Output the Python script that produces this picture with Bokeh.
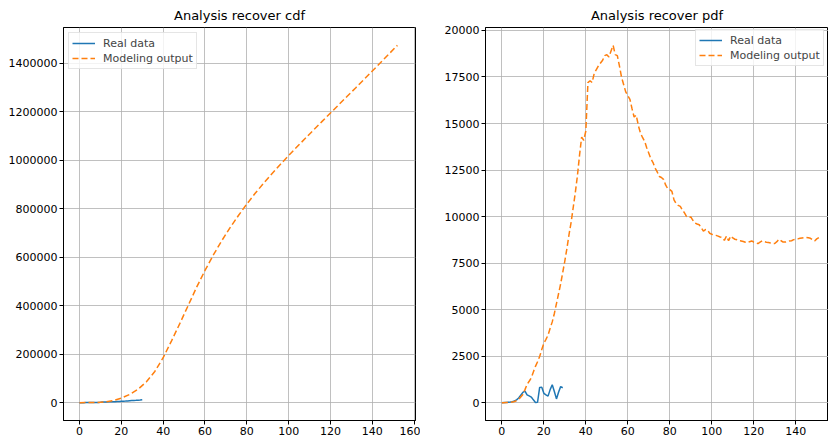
from bokeh.plotting import figure
from bokeh.layouts import row
from bokeh.models import FixedTicker, NumeralTickFormatter, Legend, LegendItem
from bokeh.embed import file_html
from bokeh.resources import INLINE

# ---------------- data ----------------
# Real data (days 0..)
real_cdf_x = list(range(0, 31))
real_cdf_y = [0, 5, 15, 35, 65, 115, 205, 355, 605, 1005, 1555, 2175, 2595, 2955, 3255,
              3405, 3415, 3435, 4255, 5085, 5585, 6005, 6355, 7055, 8015, 8615, 8815,
              9375, 10235, 11035, 12200]

real_pdf_x = list(range(0, 30))
real_pdf_y = [0, 5, 10, 20, 30, 50, 90, 150, 250, 400, 550, 620, 420, 360, 300,
              150, 10, 20, 820, 830, 500, 420, 350, 700, 960, 600, 200, 560, 860, 800]

# Modeling output, cumulative (every 4 days)
model_cdf_x = list(range(0, 153, 4))
model_cdf_y = [0, 100, 400, 2600, 8400, 18700, 33700, 55100, 85900, 128400, 185200,
               254800, 326900, 401400, 476200, 545200, 609000, 667800, 721800, 772000,
               819200, 863400, 904800, 944400, 982400, 1019100, 1055100, 1090400,
               1125500, 1160100, 1194700, 1229100, 1263700, 1298100, 1332900, 1367800,
               1403100, 1438500, 1473700]

# Modeling output, daily
model_pdf_x = list(range(0, 152))
model_pdf_y = [0, 0, 5, 10, 20, 35, 60, 110, 180, 300, 440, 700, 975, 1150, 1330, 1650,
               1950, 2200, 2480, 2850, 3190, 3400, 3630, 4000, 4340, 4790, 5320, 5850,
               6380, 7000, 7620, 8300, 9040, 9700, 10500, 11300, 12200, 13300, 14270,
               14100, 14600, 17200, 17300, 17200, 17700, 17900, 18100, 18250, 18400,
               18650, 18700, 18580, 18900, 19200, 18700, 18650, 18100, 17500, 17100,
               16700, 16500, 16300, 15800, 15350, 15450, 14900, 14500, 14250, 14050,
               13700, 13400, 13100, 12900, 12600, 12400, 12150, 12100, 12000, 11700,
               11500, 11450, 11350, 10900, 10700, 10600, 10550, 10350, 10200, 10000,
               9950, 9980, 9800, 9650, 9600, 9560, 9400, 9220, 9300, 9280, 9100, 9050,
               9020, 8990, 8950, 8900, 8870, 8720, 8950, 8700, 8950, 8850, 8780, 8750,
               8700, 8690, 8660, 8620, 8600, 8650, 8690, 8620, 8580, 8550, 8620, 8690,
               8650, 8620, 8600, 8580, 8560, 8550, 8650, 8780, 8700, 8630, 8630, 8650,
               8690, 8700, 8760, 8780, 8800, 8830, 8850, 8870, 8870, 8860, 8830, 8750,
               8690, 8800, 8870]

left_xticks = [0, 20, 40, 60, 80, 100, 120, 140, 160]
left_yticks = [0, 200000, 400000, 600000, 800000, 1000000, 1200000, 1400000]
right_xticks = [0, 20, 40, 60, 80, 100, 120, 140]
right_yticks = [0, 2500, 5000, 7500, 10000, 12500, 15000, 17500, 20000]

BLUE = "#1f77b4"
ORANGE = "#ff7f0e"
FONT = "DejaVu Sans"


def style(p, xticks, yticks):
    p.title.text_font = FONT
    p.title.text_font_size = "13px"
    p.title.text_font_style = "normal"
    p.title.align = "center"
    p.title.text_color = "black"
    p.outline_line_color = "black"
    p.outline_line_alpha = 1
    for ax in (p.xaxis[0], p.yaxis[0]):
        ax.axis_line_color = "black"
        ax.major_tick_line_color = "black"
        ax.major_tick_out = 4
        ax.major_tick_in = 0
        ax.minor_tick_line_color = None
        ax.major_label_text_font = FONT
        ax.major_label_text_font_size = "11px"
        ax.major_label_text_color = "black"
        ax.major_label_standoff = 2
    p.xaxis[0].ticker = FixedTicker(ticks=xticks)
    p.yaxis[0].ticker = FixedTicker(ticks=yticks)
    p.yaxis[0].formatter = NumeralTickFormatter(format="0")
    p.xgrid.grid_line_color = "#b0b0b0"
    p.ygrid.grid_line_color = "#b0b0b0"
    p.xgrid.grid_line_width = 0.8
    p.ygrid.grid_line_width = 0.8


def make_legend(p, r1, r2, location):
    leg = Legend(items=[LegendItem(label="Real data", renderers=[r1]),
                        LegendItem(label="Modeling output", renderers=[r2])],
                 location=location)
    leg.label_text_font = FONT
    leg.label_text_font_size = "11px"
    leg.glyph_width = 23
    leg.glyph_height = 14
    leg.label_height = 14
    leg.label_standoff = 8
    leg.spacing = 1
    leg.padding = 3
    leg.margin = 5
    leg.border_line_color = "#cccccc"
    leg.background_fill_alpha = 0.8
    p.add_layout(leg)
    return leg


p1 = figure(width=420, height=441, title="Analysis recover cdf",
            x_range=(-7.65, 160.65), y_range=(-73700, 1547400),
            output_backend="svg", toolbar_location=None,
            min_border_left=63, min_border_right=5, min_border_top=24,
            min_border_bottom=21)
style(p1, left_xticks, left_yticks)
r1 = p1.line(real_cdf_x, real_cdf_y, line_color=BLUE, line_width=1.5)
r2 = p1.line(model_cdf_x, model_cdf_y, line_color=ORANGE, line_width=1.5,
             line_dash="6 3")
make_legend(p1, r1, r2, "top_left")

p2 = figure(width=408, height=441, title="Analysis recover pdf",
            x_range=(-7.8, 155.6), y_range=(-960, 20160),
            output_backend="svg", toolbar_location=None,
            min_border_left=65, min_border_right=0, min_border_top=24,
            min_border_bottom=21)
style(p2, right_xticks, right_yticks)
s1 = p2.line(real_pdf_x, real_pdf_y, line_color=BLUE, line_width=1.5)
s2 = p2.line(model_pdf_x, model_pdf_y, line_color=ORANGE, line_width=1.5,
             line_dash="6 3")
leg2 = make_legend(p2, s1, s2, (210, 354))
leg2.margin = 0

layout = row(p1, p2)
open("out.html", "w").write(file_html(layout, INLINE))
